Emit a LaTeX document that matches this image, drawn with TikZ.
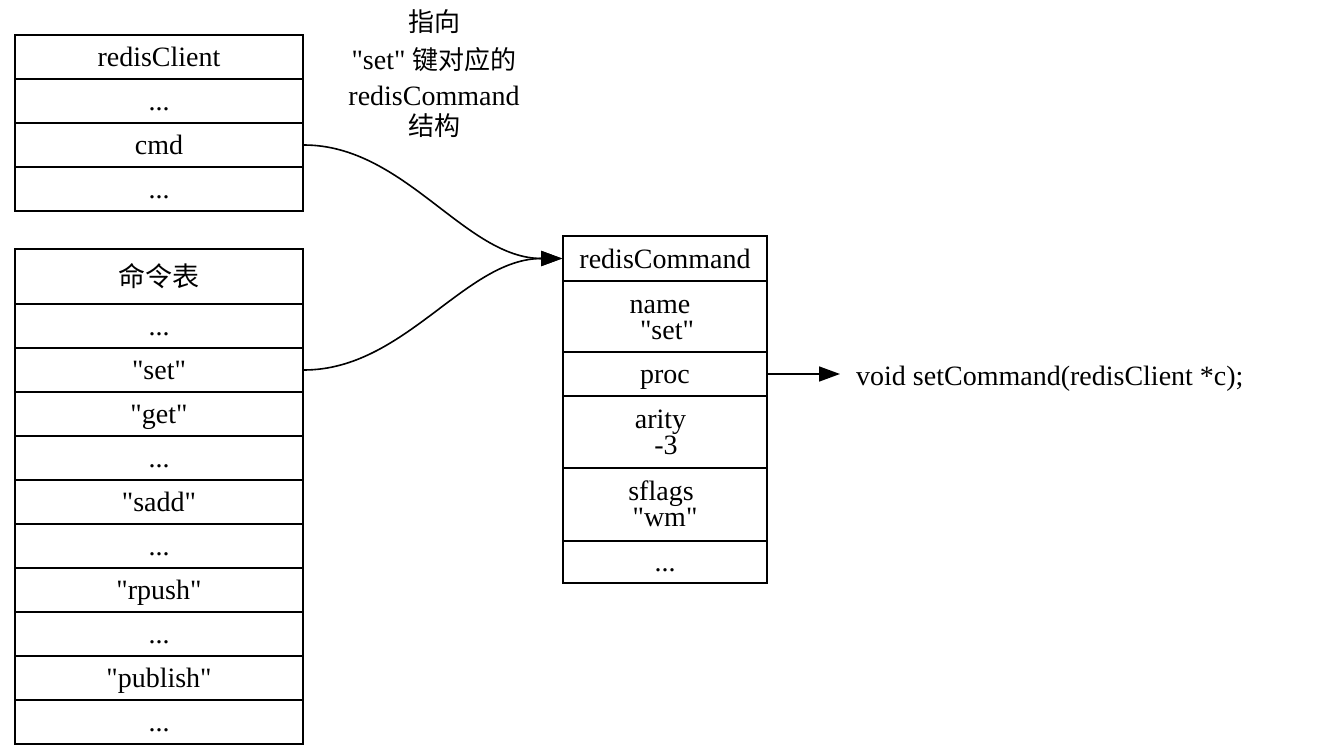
\documentclass[tikz,border=0pt]{standalone}
\usepackage{fontspec}
\setmainfont{Liberation Serif}[Ligatures=TeXOff]
\newfontfamily\cjk{Noto Sans CJK SC}
\newcommand\sq{\char34\relax}
\usetikzlibrary{arrows.meta}
\begin{document}
\begin{tikzpicture}[x=1pt,y=-1pt,
  cell/.style={draw, line width=1.6pt, inner sep=0pt, minimum width=288pt, minimum height=44pt,
    text height=21pt, text depth=2pt, font=\fontsize{28}{26}\selectfont},
  cmdcell/.style={cell, minimum width=204pt},
  txt/.style={anchor=base, inner sep=0pt, font=\fontsize{28}{26}\selectfont},
  cjktxt/.style={anchor=base, inner sep=0pt, font=\fontsize{26}{26}\selectfont\cjk},
  conn/.style={line width=1.6pt, -{Triangle[length=21pt,width=15pt]}}]
\useasboundingbox (0,0) rectangle (1328,752);
% redisClient table
\node[cell] (rc) at (159,57) {redisClient};
\node[cell] (rc2) at (159,101) {...};
\node[cell] (cmd) at (159,145) {cmd};
\node[cell] (rc4) at (159,189) {...};
% command table
\node[cell, minimum height=55pt] (tbl) at (159,276.5) {\cjk\fontsize{27}{27}\selectfont 命令表};
\node[cell] (t1) at (159,326) {...};
\node[cell] (tset) at (159,370) {\sq set\sq};
\node[cell] (tget) at (159,414) {\sq get\sq};
\node[cell] (t4) at (159,458) {...};
\node[cell] (tsadd) at (159,502) {\sq sadd\sq};
\node[cell] (t6) at (159,546) {...};
\node[cell] (trpush) at (159,590) {\sq rpush\sq};
\node[cell] (t8) at (159,634) {...};
\node[cell] (tpub) at (159,678) {\sq publish\sq};
\node[cell] (t10) at (159,722) {...};
% redisCommand table
\node[cmdcell, minimum height=45pt] (rchead) at (665,258.5) {redisCommand};
\node[cmdcell, minimum height=71pt] (cname) at (665,316.5) {};
\node[txt] (cname1) at (660,313) {name};
\node[txt] (cname2) at (667,339) {\sq set\sq};
\node[cmdcell] (proc) at (665,374) {proc};
\node[cmdcell, minimum height=72pt] (carity) at (665,432) {};
\node[txt] (carity1) at (660.5,428) {arity};
\node[txt] (carity2) at (666,454) {-3};
\node[cmdcell, minimum height=73pt] (cflags) at (665,504.5) {};
\node[txt] (cflags1) at (661,500) {sflags};
\node[txt] (cflags2) at (665,526) {\sq wm\sq};
\node[cmdcell, minimum height=42pt] (cmore) at (665,562) {...};
% annotation
\node[cjktxt] (lbl1) at (434,31.5) {指向};
\node[txt] (lbl2) at (434,70) {\sq set\sq\ {\cjk\fontsize{26}{26}\selectfont 键对应的}};
\node[txt] (lbl3) at (434,106) {redisCommand};
\node[cjktxt] (lbl4) at (434,135.5) {结构};
% proc target
\coordinate (ptr) at (840,374);
\node[txt, anchor=base west] (fn) at (856,385) {void setCommand(redisClient *c);};
% connectors
\draw[conn] (cmd.east) .. controls (405,145) and (465,258.5) .. (rchead.west);
\draw[conn] (tset.east) .. controls (405,370) and (465,258.5) .. (rchead.west);
\draw[conn] (proc.east) -- (ptr);
\end{tikzpicture}
\end{document}
